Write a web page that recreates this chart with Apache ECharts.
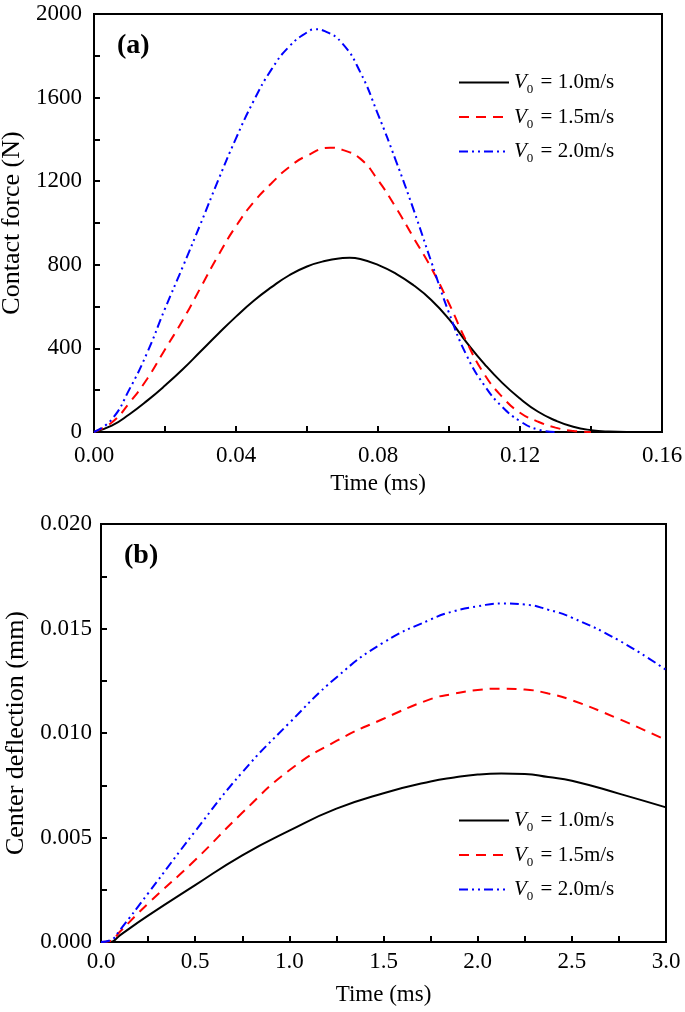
<!DOCTYPE html>
<html>
<head>
<meta charset="utf-8">
<style>
  html, body { margin: 0; padding: 0; background: #fff; }
  #main { width: 685px; height: 1012px; }
</style>
<script src="https://cdn.jsdelivr.net/npm/echarts@6/dist/echarts.min.js"></script>
</head>
<body>
<div id="main"></div>
<script>
// (a) contact force vs time
var tBlack = [0,0.005,0.01,0.015,0.02,0.025,0.03,0.035,0.04,0.045,0.05,0.055,0.06,0.065,0.07,0.072,0.075,0.08,0.085,0.09,0.095,0.1,0.105,0.11,0.115,0.12,0.125,0.13,0.135,0.14,0.145,0.15];
var fBlack = [0,30,85,150,222,300,385,470,552,628,693,750,792,818,832,834,828,800,758,702,632,540,428,325,235,160,98,55,25,9,2,0];
var tRed = [0,0.005,0.01,0.015,0.02,0.025,0.03,0.035,0.04,0.045,0.05,0.055,0.06,0.0665,0.07,0.075,0.08,0.085,0.09,0.095,0.1,0.105,0.11,0.115,0.12,0.125,0.13,0.135,0.14];
var fRed = [0,45,140,255,395,535,690,845,985,1100,1190,1268,1322,1360,1350,1308,1205,1075,930,785,615,430,275,168,92,50,21,5,0];
var tBlue = [0,0.005,0.01,0.015,0.02,0.025,0.03,0.035,0.04,0.045,0.05,0.055,0.06,0.0623,0.065,0.07,0.075,0.08,0.085,0.09,0.095,0.1,0.105,0.11,0.115,0.12,0.125,0.13];
var fBlue = [0,60,205,380,590,790,995,1205,1405,1585,1735,1845,1912,1927,1918,1858,1722,1520,1300,1065,815,570,365,222,120,52,12,0];

// (b) center deflection vs time
var tDefl = [0,0.05,0.1,0.25,0.5,0.75,1.0,1.25,1.5,1.75,1.875,2.0,2.125,2.25,2.375,2.5,2.75,3.0];
var dBlack = [0,0,0.00032,0.00126,0.00272,0.00415,0.00533,0.00638,0.00712,0.00768,0.00787,0.00801,0.00806,0.00804,0.00789,0.00772,0.0071,0.00644];
var dRed = [0,0.00005,0.00049,0.00184,0.00392,0.00618,0.00822,0.00962,0.01068,0.01162,0.01188,0.01206,0.01212,0.01208,0.01189,0.01157,0.01067,0.00966];
var dBlue = [0,0.00008,0.00057,0.00233,0.0053,0.00812,0.01048,0.01266,0.01433,0.01543,0.01583,0.01606,0.0162,0.01615,0.0159,0.01552,0.01443,0.01302];

var names = ['V0 = 1.0m/s', 'V0 = 1.5m/s', 'V0 = 2.0m/s'];
var colors = ['#000000', '#ff0000', '#0000ff'];
var dashes = ['solid', [10, 7], [9, 4, 2, 4, 2, 4]];

var FONT = 'Liberation Serif';

function pairs(xs, ys) {
  var out = [];
  for (var i = 0; i < xs.length; i++) out.push([xs[i], ys[i]]);
  return out;
}

function lineSeries(idx, grid, data) {
  return {
    name: names[idx],
    type: 'line',
    xAxisIndex: grid,
    yAxisIndex: grid,
    data: data,
    symbol: 'none',
    smooth: 0.5,
    color: colors[idx],
    lineStyle: { color: colors[idx], width: 2, type: dashes[idx] },
    z: 2 + idx
  };
}

function xAxisCfg(grid, max, interval, digits, margin, gap) {
  return {
    type: 'value', gridIndex: grid, min: 0, max: max, interval: interval,
    name: 'Time (ms)', nameLocation: 'middle', nameGap: gap,
    nameTextStyle: { fontFamily: FONT, fontSize: 23, color: '#000' },
    axisLine: { show: true, onZero: false, lineStyle: { color: '#000', width: 2 } },
    axisTick: { show: true, inside: true, length: 6, lineStyle: { color: '#000', width: 2 } },
    minorTick: { show: true, splitNumber: 2, length: 6, lineStyle: { color: '#000', width: 2 } },
    axisLabel: { fontFamily: FONT, fontSize: 23, color: '#000', margin: margin,
      formatter: function (v) { return v.toFixed(digits); } },
    splitLine: { show: false }
  };
}

function yAxisCfg(grid, max, interval, digits, name, margin, gap) {
  return {
    type: 'value', gridIndex: grid, min: 0, max: max, interval: interval,
    name: name, nameLocation: 'middle', nameGap: gap,
    nameTextStyle: { fontFamily: FONT, fontSize: 26, color: '#000' },
    axisLine: { show: true, onZero: false, lineStyle: { color: '#000', width: 2 } },
    axisTick: { show: true, inside: true, length: 6, lineStyle: { color: '#000', width: 2 } },
    minorTick: { show: true, splitNumber: 2, length: 6, lineStyle: { color: '#000', width: 2 } },
    axisLabel: { fontFamily: FONT, fontSize: 23, color: '#000', margin: margin,
      formatter: function (v) { return v.toFixed(digits); } },
    splitLine: { show: false }
  };
}

var legendText = {
  fontFamily: FONT, fontSize: 21, color: '#000',
  rich: {
    i: { fontFamily: FONT, fontSize: 21, fontStyle: 'italic', color: '#000' },
    s: { fontFamily: FONT, fontSize: 13, color: '#000', padding: [15, 2, 0, 0] },
    t: { fontFamily: FONT, fontSize: 21, color: '#000' }
  }
};
function legendFmt(name) {
  return '{i|V}{s|0}{t|' + name.slice(2) + '}';
}

function legendCfg(top) {
  return {
    orient: 'vertical', left: 453, top: top,
    itemWidth: 50, itemHeight: 14, itemGap: 10,
    data: names, formatter: legendFmt, textStyle: legendText,
    itemStyle: { opacity: 0 },
    selectedMode: false
  };
}

var chart = echarts.init(document.getElementById('main'));
chart.setOption({
  backgroundColor: '#fff',
  animation: false,
  title: [
    { text: '(a)', left: 112, top: 27, textStyle: { fontFamily: FONT, fontSize: 28, fontWeight: 'bold', color: '#000' } },
    { text: '(b)', left: 119, top: 537, textStyle: { fontFamily: FONT, fontSize: 28, fontWeight: 'bold', color: '#000' } }
  ],
  legend: [legendCfg(67), legendCfg(805)],
  grid: [
    { left: 94, top: 14, width: 568, height: 418, outerBoundsMode: 'none', containLabel: false,
      show: true, borderColor: '#000', borderWidth: 2 },
    { left: 101, top: 524, width: 565, height: 418, outerBoundsMode: 'none', containLabel: false,
      show: true, borderColor: '#000', borderWidth: 2 }
  ],
  xAxis: [
    xAxisCfg(0, 0.16, 0.04, 2, 12, 40),
    xAxisCfg(1, 3, 0.5, 1, 8, 41)
  ],
  yAxis: [
    yAxisCfg(0, 2000, 400, 0, 'Contact force (N)', 12, 61),
    yAxisCfg(1, 0.02, 0.005, 3, 'Center deflection (mm)', 9, 68)
  ],
  series: [
    lineSeries(0, 0, pairs(tBlack, fBlack)),
    lineSeries(1, 0, pairs(tRed, fRed)),
    lineSeries(2, 0, pairs(tBlue, fBlue)),
    lineSeries(0, 1, pairs(tDefl, dBlack)),
    lineSeries(1, 1, pairs(tDefl, dRed)),
    lineSeries(2, 1, pairs(tDefl, dBlue))
  ]
});
window.onresize = function () { chart.resize(); };
</script>
</body>
</html>
